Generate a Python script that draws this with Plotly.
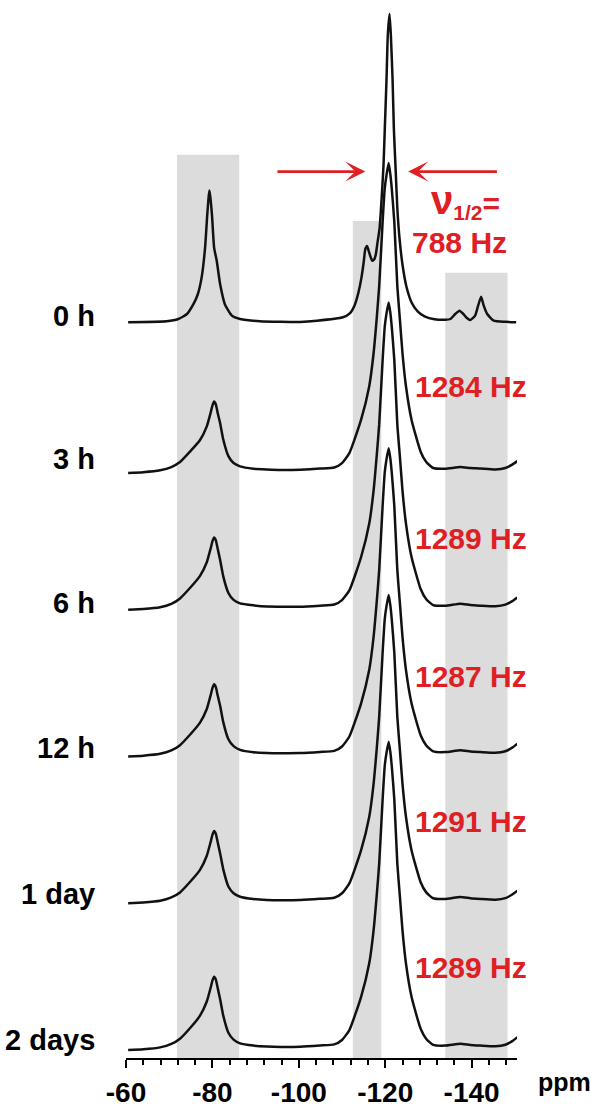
import plotly.graph_objects as go

# ---------------- data ----------------
time_labels = ["0 h", "3 h", "6 h", "12 h", "1 day", "2 days"]
baseline_offsets = [742, 590, 452, 304, 156, 8]
label_y = [748, 604, 459, 313, 165, 18]

fwhm_labels = ["1284 Hz", "1289 Hz", "1287 Hz", "1291 Hz", "1289 Hz"]
fwhm_label_y = [677, 524, 385, 239, 91]
fwhm_first = "788 Hz"

# 0 h spectrum (ppm, intensity above its baseline)
ppm_0h = [-60.5, -69.4, -72.1, -74.1, -75.6, -76.6, -77.5, -78.3, -78.8, -79.1, -79.3,
          -79.5, -79.9, -80.4, -81.0, -81.8, -82.9, -84.5, -86.4, -91.0, -100.3, -104.2,
          -110.2, -111.8, -112.9, -113.8, -114.5, -115.0, -115.4, -115.8, -116.1, -116.6,
          -117.0, -117.4, -117.8, -118.2, -118.7, -119.1, -119.6, -119.9, -120.3, -120.6,
          -121.0, -121.3, -121.7, -122.0, -122.4, -122.8, -123.3, -124.0, -124.9, -126.1,
          -127.5, -129.1, -131.4, -133.9, -135.1, -136.2, -137.2, -138.1, -138.9, -139.7,
          -140.8, -141.5, -142.2, -142.8, -143.6, -145.1, -147.8, -150.3]
int_0h = [0, 1, 3.3, 8.3, 18.3, 28, 45, 75, 108, 125, 133,
          127, 108, 75, 62, 38, 18, 6.7, 3.3, 1, 0.3, 1.5,
          5, 9, 17, 30, 45, 60, 74, 77, 73, 66,
          62, 63, 68, 80, 95, 120, 158, 195, 245, 290,
          311, 290, 245, 195, 155, 115, 85, 58, 36, 20,
          11, 6, 3, 2.5, 3.3, 8.3, 11.7, 8.3, 4.3, 2.3,
          6.7, 16.7, 25.7, 16.7, 8.3, 1.7, 0.5, 0]

# 3 h ... 2 days spectra on a shared ppm grid
ppm_aged = [-60.5, -64.0, -67.9, -70.5, -72.5, -74.8, -77.1, -78.7, -79.6, -80.0, -80.4,
            -80.8, -81.2, -81.8, -82.5, -83.7, -84.9, -86.4, -89.5, -92.6, -96.0, -100.3,
            -104.9, -108.2, -110.0, -111.7, -114.4, -116.3, -117.3, -118.0, -118.6, -119.4,
            -119.9, -120.3, -120.8, -121.2, -121.5, -122.1, -122.8, -123.4, -124.0, -124.8,
            -126.1, -128.2, -129.5, -131.1,
            -133.9, -137.4, -139.7, -142.0, -145.5, -147.8, -149.4, -150.6]
int_3h = [0, 0.8, 2.7, 6, 11, 21.5, 33, 47, 61, 68, 72,
          69, 61, 50, 34, 17, 10, 6.7, 4.3, 3.5, 3.0, 3.3,
          4.4, 5.5, 10, 20, 53.5, 87.5, 120.5, 154.5, 188.5, 253.5,
          287.5, 300.5, 312.5, 300.5, 287.5, 253.5, 188.5, 154.5, 120.5, 87.5,
          53.5, 21.5, 11, 5,
          4.3, 6, 5, 4.5, 3.5, 5, 8.5, 12]
int_6h = [0, 0.7, 2.5, 6, 11.5, 22, 34, 48, 62, 69, 73,
          70, 62, 50, 34, 17, 10, 6.5, 4.5, 3.3, 3.2, 3.0,
          4.2, 5.3, 9.8, 19.6, 53, 87, 120, 154, 187, 252,
          286, 299, 310, 299, 286, 252, 187, 154, 120, 87,
          53, 21, 10.6, 4.8,
          4.1, 6.2, 4.8, 4.2, 3.6, 5.2, 8.8, 12.5]
int_12h = [0, 0.9, 2.8, 6.2, 11.5, 22, 34, 48, 62, 69, 73,
           70, 62, 51, 35, 17.5, 10.5, 6.8, 4.4, 3.6, 3.4, 3.5,
           4.6, 5.7, 10.2, 20.2, 53.5, 87.5, 120.5, 154.5, 188, 253,
           287, 300, 311, 300, 287, 253, 188, 154.5, 120.5, 87.5,
           53.5, 21.5, 11.2, 5.2,
           4.5, 6.4, 5.2, 4.6, 3.8, 5.3, 9, 13]
int_1d = [0, 0.8, 2.6, 6, 11, 21.5, 33.5, 48, 62, 69, 73,
          70, 62, 50, 34.5, 17, 10.2, 6.6, 4.3, 3.4, 3.2, 3.4,
          4.5, 5.6, 10.1, 20.1, 53.3, 87.3, 120.3, 154.3, 188, 253,
          287, 300, 311, 300, 287, 253, 188, 154.3, 120.3, 87.3,
          53.3, 21.3, 11, 5.1,
          4.4, 6.3, 5.1, 4.4, 3.7, 5.2, 8.9, 12.7]
int_2d = [0, 0.8, 2.7, 6.2, 11.5, 22, 34.5, 49, 63, 70, 74,
          71, 63, 51, 35, 17.5, 10.5, 6.8, 4.5, 3.5, 3.2, 3.4,
          4.6, 5.7, 10.2, 20.2, 53.5, 87.5, 120.5, 154.5, 188, 253,
          287, 300, 311, 300, 287, 253, 188, 154.5, 120.5, 87.5,
          53.5, 21.5, 11.2, 5.2,
          4.5, 6.3, 5.1, 4.5, 3.8, 5.3, 9, 13]

spectra_int = [int_0h, int_3h, int_6h, int_12h, int_1d, int_2d]
spectra_ppm = [ppm_0h, ppm_aged, ppm_aged, ppm_aged, ppm_aged, ppm_aged]

# shaded regions: (ppm start, ppm end, top)
shade_x0 = [-71.8, -112.5, -133.9]
shade_x1 = [-86.2, -119.1, -148.3]
shade_top = [911, 844, 792]

tick_vals = [-60, -80, -100, -120, -140]
tick_text = ["-60", "-80", "-100", "-120", "-140"]

# ---------------- figure ----------------
RED = "rgb(222,32,36)"
FONT = "Liberation Sans, Arial, Helvetica, sans-serif"

fig = go.Figure()
for ppm, inten, off in zip(spectra_ppm, spectra_int, baseline_offsets):
    fig.add_trace(go.Scatter(
        x=ppm, y=[v + off for v in inten], mode="lines",
        line=dict(color="#111111", width=2.5, shape="spline", smoothing=0.5),
        showlegend=False, hoverinfo="skip"))

for x0, x1, top in zip(shade_x0, shade_x1, shade_top):
    fig.add_shape(type="rect", xref="x", yref="y", x0=x0, x1=x1, y0=0, y1=top,
                  fillcolor="#dcdcdc", line=dict(width=0), layer="below")

annotations = []
for txt, yv in zip(time_labels, label_y):
    annotations.append(dict(text="<b>" + txt + "</b>", xref="paper", yref="y", x=-0.074, y=yv,
                            xanchor="right", yanchor="middle", showarrow=False,
                            font=dict(family=FONT, size=29, color="black")))
for txt, yv in zip(fwhm_labels, fwhm_label_y):
    annotations.append(dict(text="<b>" + txt + "</b>", xref="paper", yref="y", x=0.882, y=yv,
                            xanchor="center", yanchor="middle", showarrow=False,
                            font=dict(family=FONT, size=30, color=RED)))
annotations.append(dict(text="<b>" + fwhm_first + "</b>", xref="paper", yref="y", x=0.854, y=822,
                        xanchor="center", yanchor="middle", showarrow=False,
                        font=dict(family=FONT, size=30, color=RED)))
annotations.append(dict(text='<b><span style="font-size:40px">ν</span><sub>1/2</sub>=</b>',
                        xref="paper", yref="y", x=0.869, y=864,
                        xanchor="center", yanchor="middle", showarrow=False,
                        font=dict(family=FONT, size=30, color=RED)))
# arrows
for tip, tail in [(-115.4, -94.7), (-125.3, -146.2)]:
    annotations.append(dict(text="", x=tip, y=894, ax=tail, ay=894, xref="x", yref="y",
                            axref="x", ayref="y", showarrow=True, arrowhead=3,
                            arrowsize=1.2, arrowwidth=2.8, arrowcolor=RED, standoff=0))
annotations.append(dict(text="<b>ppm</b>", xref="paper", yref="paper", x=1.122, y=-0.023,
                        xanchor="center", yanchor="middle", showarrow=False,
                        font=dict(family=FONT, size=25, color="black")))

fig.update_layout(
    width=591, height=1108,
    margin=dict(l=126, r=74, t=0, b=41),
    paper_bgcolor="white", plot_bgcolor="white",
    annotations=annotations,
    xaxis=dict(range=[-60, -150.5], showgrid=False, zeroline=False,
               showline=True, linecolor="black", linewidth=2,
               ticks="outside", ticklen=8, tickwidth=2, tickcolor="black",
               tickmode="array", tickvals=tick_vals,
               ticktext=["<b>" + t + "</b>" for t in tick_text],
               tickfont=dict(family=FONT, size=28, color="black"),
               minor=dict(ticks="outside", ticklen=5, tickwidth=1.5, tickcolor="black",
                          tickmode="linear", tick0=0, dtick=4)),
    yaxis=dict(range=[0, 1067], visible=False, showgrid=False, zeroline=False),
)

fig.write_html("out.html")
